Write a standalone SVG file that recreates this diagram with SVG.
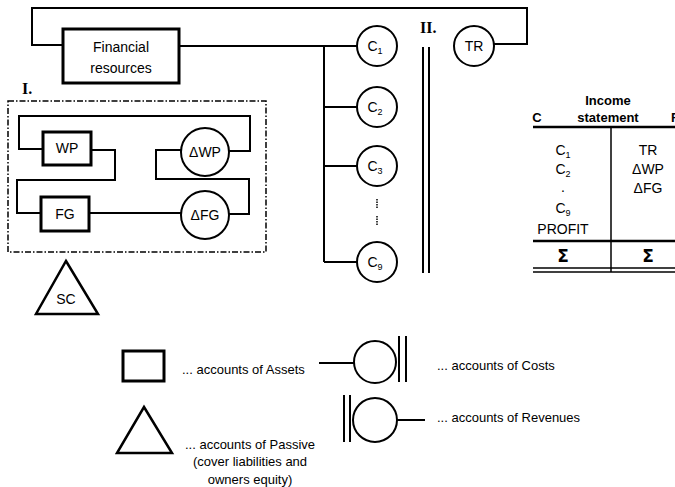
<svg xmlns="http://www.w3.org/2000/svg" width="675" height="487" viewBox="0 0 675 487">
  <style>
    .ln { fill: none; stroke: #000; stroke-width: 2; }
    .box { fill: #fff; stroke: #000; stroke-width: 3; }
    .circ { fill: #fff; stroke: #000; stroke-width: 2; }
    .t { font-family: "Liberation Sans", Arial, sans-serif; font-size: 14px; fill: #000; text-anchor: middle; }
    .tl { font-family: "Liberation Sans", Arial, sans-serif; font-size: 13px; fill: #000; }
    .sub { font-size: 9px; }
    .sigma { font-family: "DejaVu Sans", sans-serif; font-size: 17px; font-weight: bold; fill: #000; text-anchor: middle; }
    .roman { font-family: "Liberation Serif", "Times New Roman", serif; font-weight: bold; font-size: 16px; fill: #000; }
    .hd { font-family: "Liberation Sans", Arial, sans-serif; font-weight: bold; font-size: 13px; fill: #000; }
  </style>

  <!-- connectors -->
  <g id="connectors">
    <!-- outer loop: financial resources to total revenue -->
    <polyline class="ln" points="63,45 32,45 32,8 527,8 527,44 494,44"/>
    <line class="ln" x1="179" y1="46" x2="357" y2="46"/>
    <!-- trunk to cost accounts -->
    <line class="ln" x1="324" y1="46" x2="324" y2="262"/>
    <line class="ln" x1="324" y1="107" x2="357" y2="107"/>
    <line class="ln" x1="324" y1="166" x2="357" y2="166"/>
    <line class="ln" x1="324" y1="262" x2="357" y2="262"/>
    <!-- double separator of section II -->
    <line class="ln" x1="423" y1="47" x2="423" y2="273"/>
    <line class="ln" x1="429" y1="47" x2="429" y2="273"/>
    <!-- section I links -->
    <polyline class="ln" points="43,149 19,149 19,116 250,116 250,151 229,151"/>
    <polyline class="ln" points="91,150 115,150 115,180 17,180 17,213 41,213"/>
    <line class="ln" x1="89" y1="213" x2="181" y2="213"/>
    <polyline class="ln" points="181,150 156,150 156,179 249,179 249,214 229,214"/>
  </g>

  <!-- section labels and frame -->
  <text class="roman" x="22" y="94">I.</text>
  <text class="roman" x="420" y="33">II.</text>
  <rect x="8" y="101" width="258" height="151" fill="none" stroke="#000" stroke-width="1.5" stroke-dasharray="6,2,1.5,2"/>

  <g id="financial-resources">
    <rect class="box" x="63" y="29" width="116" height="54"/>
    <text class="t" x="121" y="52">Financial</text>
    <text class="t" x="121" y="73">resources</text>
  </g>

  <g id="c1">
    <circle class="circ" cx="377" cy="46" r="20"/>
    <text class="t" x="375" y="51">C<tspan class="sub" dy="3">1</tspan></text>
  </g>
  <g id="c2">
    <circle class="circ" cx="377" cy="107" r="20"/>
    <text class="t" x="375" y="112">C<tspan class="sub" dy="3">2</tspan></text>
  </g>
  <g id="c3">
    <circle class="circ" cx="377" cy="166" r="20"/>
    <text class="t" x="375" y="171">C<tspan class="sub" dy="3">3</tspan></text>
  </g>
  <g id="ellipsis">
    <line x1="377" y1="199" x2="377" y2="209" stroke="#000" stroke-width="1.5" stroke-dasharray="1.5,1"/>
    <line x1="377" y1="216" x2="377" y2="226" stroke="#000" stroke-width="1.5" stroke-dasharray="1.5,1"/>
  </g>
  <g id="c9">
    <circle class="circ" cx="377" cy="262" r="20"/>
    <text class="t" x="375" y="267">C<tspan class="sub" dy="3">9</tspan></text>
  </g>
  <g id="tr">
    <circle class="circ" cx="474" cy="46" r="20"/>
    <text class="t" x="474" y="51">TR</text>
  </g>

  <g id="wp">
    <rect class="box" x="43" y="132" width="48" height="33"/>
    <text class="t" x="67" y="153">WP</text>
  </g>
  <g id="fg">
    <rect class="box" x="41" y="197" width="48" height="34"/>
    <text class="t" x="65" y="219">FG</text>
  </g>
  <g id="delta-wp">
    <circle class="circ" cx="205" cy="152" r="24"/>
    <text class="t" x="205" y="157">ΔWP</text>
  </g>
  <g id="delta-fg">
    <circle class="circ" cx="205" cy="215" r="24"/>
    <text class="t" x="205" y="220">ΔFG</text>
  </g>

  <g id="sc">
    <polygon points="66,261 98,314 36,314" fill="#fff" stroke="#000" stroke-width="2.5"/>
    <text class="t" x="66" y="304">SC</text>
  </g>

  <!-- income statement T-account -->
  <g id="income-statement">
    <text class="hd" x="608" y="105" text-anchor="middle">Income</text>
    <text class="hd" x="608" y="122" text-anchor="middle">statement</text>
    <text class="hd" x="537" y="122" text-anchor="middle">C</text>
    <text class="hd" x="671" y="122">R</text>
    <line x1="533" y1="127" x2="675" y2="127" stroke="#000" stroke-width="2.5"/>
    <line x1="611" y1="127" x2="611" y2="272" stroke="#000" stroke-width="1.5"/>
    <line x1="533" y1="241" x2="675" y2="241" stroke="#000" stroke-width="2.5"/>
    <line x1="533" y1="268" x2="675" y2="268" stroke="#000" stroke-width="1.3"/>
    <line x1="533" y1="272" x2="675" y2="272" stroke="#000" stroke-width="1.3"/>
    <text class="t" x="563" y="155">C<tspan class="sub" dy="3">1</tspan></text>
    <text class="t" x="563" y="174">C<tspan class="sub" dy="3">2</tspan></text>
    <text class="t" x="563" y="192">.</text>
    <text class="t" x="563" y="213">C<tspan class="sub" dy="3">9</tspan></text>
    <text class="t" x="563" y="234">PROFIT</text>
    <text class="t" x="648" y="155">TR</text>
    <text class="t" x="648" y="174">ΔWP</text>
    <text class="t" x="648" y="193">ΔFG</text>
    <text class="sigma" x="563" y="262">Σ</text>
    <text class="sigma" x="648" y="262">Σ</text>
  </g>

  <!-- legend -->
  <g id="legend-assets">
    <rect class="box" x="123" y="351" width="41" height="30"/>
    <text class="tl" x="182" y="374">... accounts of Assets</text>
  </g>
  <g id="legend-passive">
    <polygon points="144,407 172,453 117,453" fill="#fff" stroke="#000" stroke-width="2.5"/>
    <text class="tl" x="250" y="449" text-anchor="middle">... accounts of Passive</text>
    <text class="tl" x="250" y="466" text-anchor="middle">(cover liabilities and</text>
    <text class="tl" x="250" y="484" text-anchor="middle">owners equity)</text>
  </g>
  <g id="legend-costs">
    <line class="ln" x1="319" y1="363" x2="354" y2="363"/>
    <circle class="circ" cx="375" cy="362" r="21"/>
    <line class="ln" x1="399" y1="336" x2="399" y2="382"/>
    <line class="ln" x1="406" y1="336" x2="406" y2="382"/>
    <text class="tl" x="437" y="370">... accounts of Costs</text>
  </g>
  <g id="legend-revenues">
    <line class="ln" x1="344" y1="395" x2="344" y2="442"/>
    <line class="ln" x1="350" y1="395" x2="350" y2="442"/>
    <circle class="circ" cx="375" cy="420" r="22"/>
    <line class="ln" x1="397" y1="420" x2="425" y2="420"/>
    <text class="tl" x="437" y="422">... accounts of Revenues</text>
  </g>
</svg>
